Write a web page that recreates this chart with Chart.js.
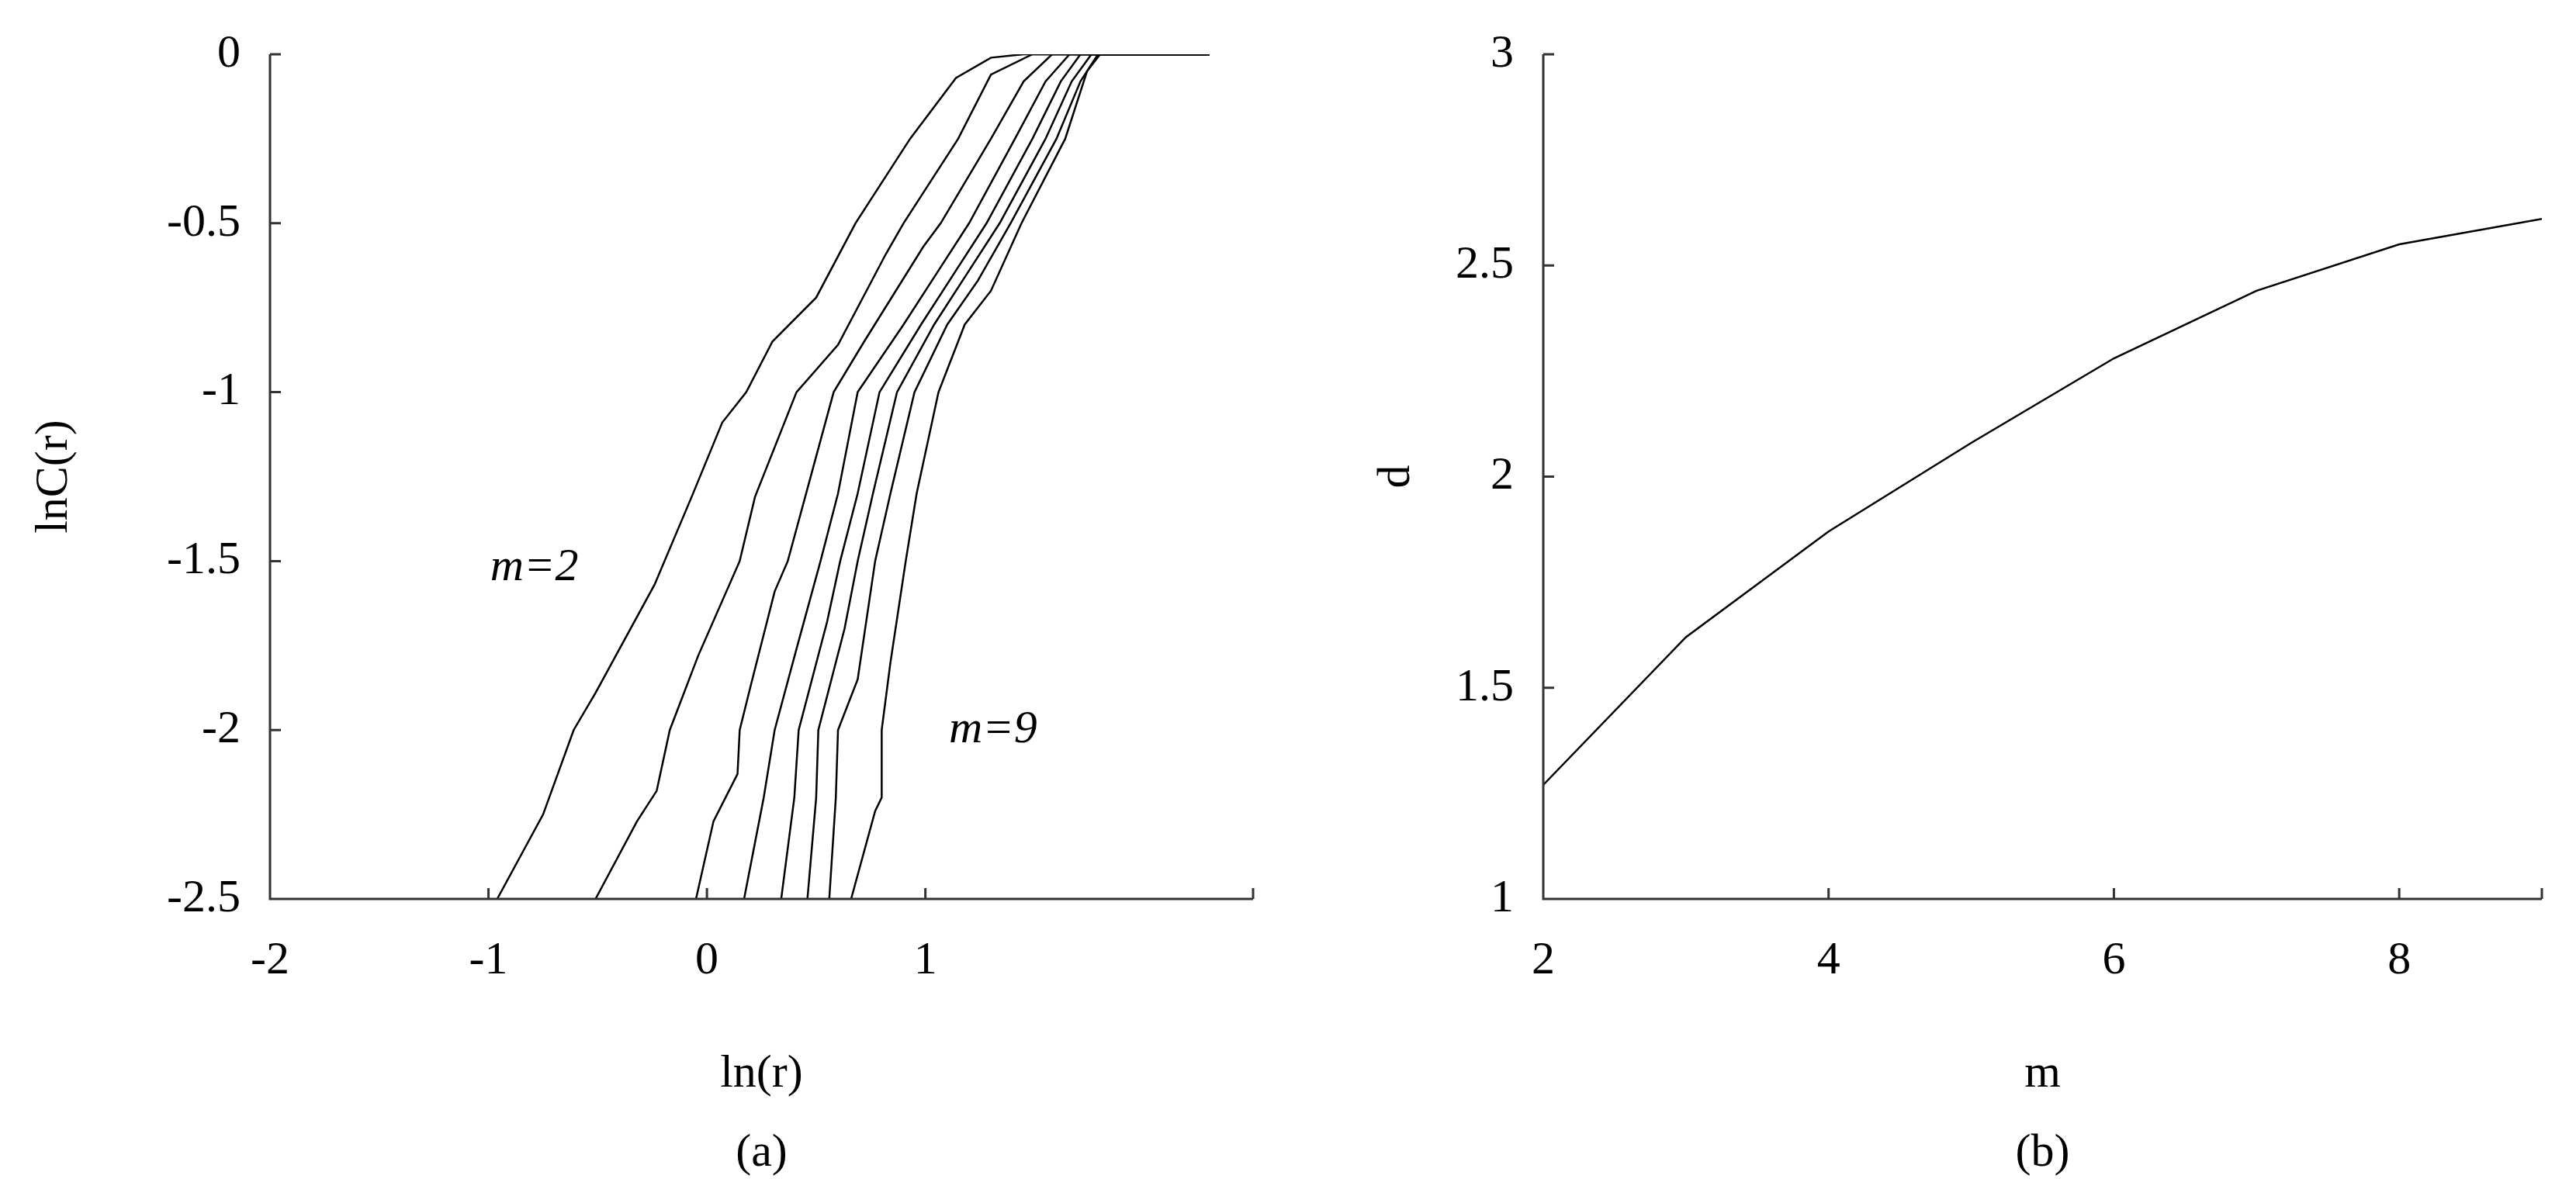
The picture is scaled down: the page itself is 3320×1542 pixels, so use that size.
<!DOCTYPE html>
<html><head><meta charset="utf-8">
<script src="https://cdn.jsdelivr.net/npm/chart.js@4/dist/chart.umd.min.js"></script>
<style>
body{margin:0;background:#fff;width:3320px;height:1542px;overflow:hidden}
canvas{position:absolute;top:0}
</style></head><body>
<div style="position:absolute;left:0;top:0;width:1660px;height:1542px"><canvas id="a"></canvas></div>
<div style="position:absolute;left:1700px;top:0;width:1620px;height:1542px"><canvas id="b"></canvas></div>
<script>
// lnC(r) vs ln(r), one curve per embedding dimension m
const curveM2 = [[-0.96,-2.5],[-0.75,-2.25],[-0.61,-2.0],[-0.51,-1.89],[-0.24,-1.57],[-0.07,-1.31],[0.07,-1.09],[0.18,-1.0],[0.30,-0.85],[0.50,-0.72],[0.68,-0.50],[0.93,-0.25],[1.14,-0.07],[1.30,-0.01],[1.45,0],[2.3,0]];
const curveM3 = [[-0.51,-2.5],[-0.32,-2.27],[-0.23,-2.18],[-0.17,-2.0],[-0.04,-1.78],[0.15,-1.5],[0.22,-1.31],[0.41,-1.0],[0.60,-0.86],[0.82,-0.59],[0.90,-0.5],[1.15,-0.25],[1.30,-0.06],[1.49,0],[2.3,0]];
const curveM4 = [[-0.05,-2.5],[0.03,-2.27],[0.14,-2.13],[0.15,-2.0],[0.20,-1.87],[0.31,-1.59],[0.37,-1.5],[0.58,-1.0],[0.72,-0.85],[0.99,-0.57],[1.07,-0.5],[1.30,-0.25],[1.45,-0.08],[1.58,0],[2.3,0]];
const curveM5 = [[0.17,-2.5],[0.26,-2.2],[0.31,-2.0],[0.41,-1.76],[0.52,-1.5],[0.60,-1.3],[0.69,-1.0],[0.90,-0.8],[1.05,-0.65],[1.2,-0.5],[1.41,-0.25],[1.55,-0.08],[1.66,0],[2.3,0]];
const curveM6 = [[0.34,-2.5],[0.40,-2.2],[0.42,-2.0],[0.55,-1.68],[0.61,-1.5],[0.69,-1.3],[0.79,-1.0],[0.98,-0.8],[1.13,-0.65],[1.28,-0.5],[1.49,-0.25],[1.62,-0.08],[1.71,0],[2.3,0]];
const curveM7 = [[0.46,-2.5],[0.50,-2.2],[0.51,-2.0],[0.63,-1.7],[0.69,-1.5],[0.76,-1.3],[0.87,-1.0],[1.04,-0.8],[1.19,-0.65],[1.34,-0.5],[1.55,-0.25],[1.67,-0.08],[1.76,0],[2.3,0]];
const curveM8 = [[0.56,-2.5],[0.59,-2.2],[0.60,-2.0],[0.69,-1.85],[0.77,-1.5],[0.84,-1.3],[0.95,-1.0],[1.10,-0.8],[1.24,-0.67],[1.39,-0.5],[1.60,-0.25],[1.71,-0.08],[1.79,0],[2.3,0]];
const curveM9 = [[0.66,-2.5],[0.77,-2.24],[0.80,-2.2],[0.80,-2.0],[0.84,-1.8],[0.91,-1.5],[0.96,-1.3],[1.06,-1.0],[1.18,-0.8],[1.30,-0.7],[1.44,-0.5],[1.64,-0.25],[1.74,-0.05],[1.80,0],[2.3,0]];
const curvesA = [curveM2,curveM3,curveM4,curveM5,curveM6,curveM7,curveM8,curveM9];

// correlation dimension d vs m
const mValues = [2,3,4,5,6,7,8,9];
const dValues = [1.27,1.62,1.87,2.08,2.28,2.44,2.55,2.61];

const FONT = "'Liberation Serif', serif";
Chart.defaults.font.family = FONT;
Chart.defaults.color = '#000';

// inward tick marks + axis lines + annotations
const frame = {
  id: 'frame',
  afterDraw(chart, args, opts) {
    const {ctx, chartArea: a, scales: {x, y}} = chart;
    ctx.save();
    ctx.strokeStyle = '#333'; ctx.lineWidth = 3;
    ctx.beginPath();
    ctx.moveTo(a.left, a.top); ctx.lineTo(a.left, a.bottom); ctx.lineTo(a.right, a.bottom);
    x.ticks.forEach(t => { const p = x.getPixelForValue(t.value); ctx.moveTo(p, a.bottom); ctx.lineTo(p, a.bottom - 14); });
    y.ticks.forEach(t => { const p = y.getPixelForValue(t.value); ctx.moveTo(a.left, p); ctx.lineTo(a.left + 14, p); });
    ctx.stroke();
    ctx.fillStyle = '#000';
    ctx.font = 'italic 60px ' + FONT;
    ctx.textAlign = 'center'; ctx.textBaseline = 'middle';
    (opts.notes || []).forEach(n => ctx.fillText(n.text, x.getPixelForValue(n.x), y.getPixelForValue(n.y)));
    ctx.restore();
  }
};

function axes(xmin, xmax, xstep, ymin, ymax, ystep, yw, xt, yt) {
  return {
    x: {type: 'linear', min: xmin, max: xmax, border: {display: false},
        grid: {display: false},
        ticks: {stepSize: xstep, font: {size: 60}, padding: 36, maxRotation: 0, autoSkip: false,
                callback: v => (Math.abs(v - xmax) < 1e-9 && (xmax - xmin) % xstep) ? '' : String(v)},
        title: {display: true, text: xt, font: {size: 60, lineHeight: 1.7}, padding: {top: 0}},
        afterFit: s => { s.height = 383; }},
    y: {type: 'linear', min: ymin, max: ymax, border: {display: false},
        grid: {display: false},
        ticks: {stepSize: ystep, font: {size: 60}, padding: 30, autoSkip: false,
                callback: v => String(v)},
        title: {display: true, text: yt, font: {size: 60}, padding: {bottom: 0}},
        afterFit: s => { s.width = yw; }}
  };
}

new Chart(document.getElementById('a'), {
  type: 'line',
  data: {datasets: curvesA.map((c, i) => ({label: 'm=' + (i + 2),
    data: c.map(p => ({x: p[0], y: p[1]})), borderColor: '#000', borderWidth: 2.5,
    pointRadius: 0, tension: 0}))},
  options: {
    responsive: true, maintainAspectRatio: false, animation: false,
    layout: {padding: {top: 70, right: 45, left: 30, bottom: 0}},
    plugins: {legend: {display: false}, tooltip: {enabled: false},
      frame: {notes: [{text: 'm=2', x: -0.79, y: -1.52}, {text: 'm=9', x: 1.31, y: -2.0}]}},
    scales: axes(-2, 2.5, 1, -2.5, 0, 0.5, 318, ['ln(r)', '(a)'], 'lnC(r)')
  },
  plugins: [frame]
});

new Chart(document.getElementById('b'), {
  type: 'line',
  data: {datasets: [{label: 'd', data: mValues.map((m, i) => ({x: m, y: dValues[i]})),
    borderColor: '#000', borderWidth: 2.5, pointRadius: 0, tension: 0}]},
  options: {
    responsive: true, maintainAspectRatio: false, animation: false,
    layout: {padding: {top: 70, right: 44, left: 60, bottom: 0}},
    plugins: {legend: {display: false}, tooltip: {enabled: false}, frame: {notes: []}},
    scales: axes(2, 9, 2, 1, 3, 0.5, 229, ['m', '(b)'], 'd')
  },
  plugins: [frame]
});
</script>
</body></html>
